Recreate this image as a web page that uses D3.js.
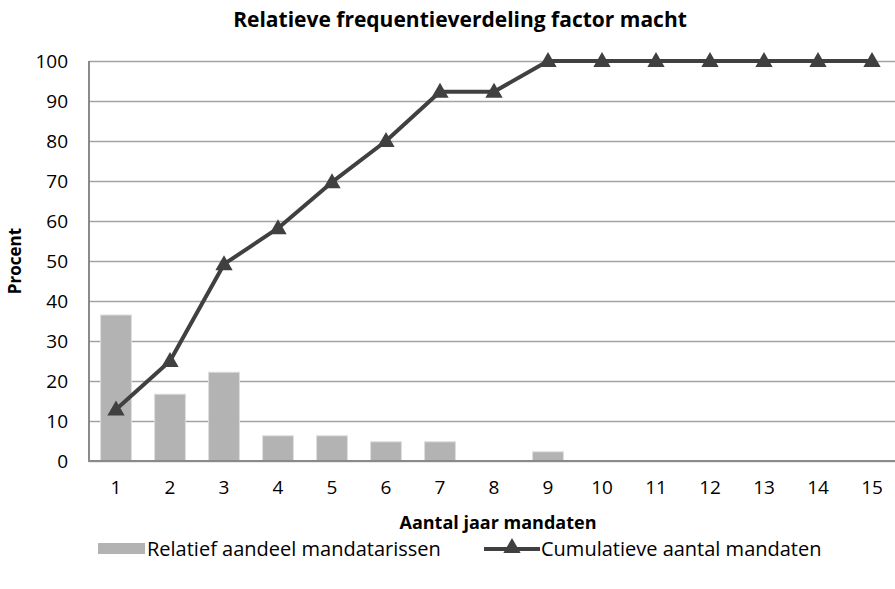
<!DOCTYPE html>
<html>
<head>
<meta charset="utf-8">
<script src="https://cdn.jsdelivr.net/npm/d3@7"></script>
<style>
  body { margin: 0; background: #fff; }
  svg text { font-family: "Open Sans", sans-serif; fill: #000; }
</style>
</head>
<body>
<div id="chart"></div>
<script>

// data
var years = ["1", "2", "3", "4", "5", "6", "7", "8", "9", "10", "11", "12", "13", "14", "15"]

var relatief = [36.5, 16.7, 22.2, 6.3, 6.3, 4.8, 4.8, 0, 2.3, 0, 0, 0, 0, 0, 0]

var cumulatief = [12.9, 25, 49.2, 58.2, 69.7, 80, 92.3, 92.3, 100, 100, 100, 100, 100, 100, 100]

var yTicks = [0, 10, 20, 30, 40, 50, 60, 70, 80, 90, 100]

var width = 895, height = 589

var margin = { top: 61, left: 89, bottom: 128 }

var plotHeight = height - margin.top - margin.bottom

// the plot runs a little past the right edge of the picture
var band = 54

var svg = d3.select("#chart").append("svg")
    .attr("width", width)
    .attr("height", height)

var x = d3.scaleBand()
    .domain(years)
    .range([margin.left, margin.left + band * years.length])
    .paddingInner(0.43)
    .paddingOuter(0.215)

var xc = (d) => x(d) + x.bandwidth() / 2

var y = d3.scaleLinear()
    .domain([0, 100])
    .range([margin.top + plotHeight, margin.top])

// gridlines + y labels
svg.append("g")
    .attr("class", "y axis")
    .attr("transform", "translate(" + margin.left + ",0)")
    .call(d3.axisLeft(y).tickValues(yTicks).tickSize(-(width - margin.left)).tickPadding(21))
    .call(g => g.select(".domain").remove())
    .call(g => g.selectAll(".tick line").attr("stroke", "#a3a3a3").attr("stroke-width", 1.6))
    .call(g => g.selectAll(".tick text").attr("font-size", 19).attr("font-family", "Open Sans").attr("fill", "#000"))

// bars
svg.append("g")
    .selectAll("rect")
    .data(relatief)
    .join("rect")
    .attr("x", (d, i) => x(years[i]))
    .attr("y", d => y(d))
    .attr("width", x.bandwidth())
    .attr("height", d => y(0) - y(d))
    .attr("fill", "#b3b3b3")
    .attr("stroke", "#dcdcdc")
    .attr("stroke-width", d => d > 0 ? 1 : 0)

// axes lines
svg.append("line")
    .attr("x1", margin.left).attr("x2", width)
    .attr("y1", y(0)).attr("y2", y(0))
    .attr("stroke", "#8a8a8a").attr("stroke-width", 2.2)

svg.append("line")
    .attr("x1", margin.left).attr("x2", margin.left)
    .attr("y1", y(100)).attr("y2", y(0) + 1)
    .attr("stroke", "#8a8a8a").attr("stroke-width", 2)

// x labels
svg.append("g")
    .attr("class", "x axis")
    .attr("transform", "translate(0," + y(0) + ")")
    .call(d3.axisBottom(x).tickSize(0).tickPadding(20))
    .call(g => g.select(".domain").remove())
    .call(g => g.selectAll(".tick text").attr("font-size", 19).attr("font-family", "Open Sans").attr("fill", "#000"))

// cumulative line
var line = d3.line()
    .x((d, i) => xc(years[i]))
    .y(d => y(d))

svg.append("path")
    .datum(cumulatief)
    .attr("d", line)
    .attr("fill", "none")
    .attr("stroke", "#404040")
    .attr("stroke-width", 4)
    .attr("stroke-linejoin", "round")

var tri = d3.symbol().type(d3.symbolTriangle).size(130)

svg.append("g")
    .selectAll("path")
    .data(cumulatief)
    .join("path")
    .attr("d", tri)
    .attr("transform", (d, i) => "translate(" + xc(years[i]) + "," + (y(d) + 1) + ")")
    .attr("fill", "#404040")

// titles
svg.append("text")
    .attr("x", 460).attr("y", 27)
    .attr("text-anchor", "middle")
    .attr("font-size", 21).attr("font-weight", "bold")
    .text("Relatieve frequentieverdeling factor macht")

svg.append("text")
    .attr("x", 498).attr("y", 529)
    .attr("text-anchor", "middle")
    .attr("font-size", 18).attr("font-weight", "bold")
    .text("Aantal jaar mandaten")

svg.append("text")
    .attr("transform", "translate(21," + y(50) + ") rotate(-90)")
    .attr("text-anchor", "middle")
    .attr("font-size", 17).attr("font-weight", "bold")
    .text("Procent")

// legend
var legend = svg.append("g").attr("transform", "translate(0,549)")

legend.append("rect")
    .attr("x", 98).attr("y", -6)
    .attr("width", 47).attr("height", 11)
    .attr("fill", "#b3b3b3")

legend.append("text")
    .attr("x", 147).attr("y", 7)
    .attr("font-size", 20)
    .text("Relatief aandeel mandatarissen")

legend.append("line")
    .attr("x1", 484).attr("x2", 540)
    .attr("y1", 0).attr("y2", 0)
    .attr("stroke", "#404040").attr("stroke-width", 4)

legend.append("path")
    .attr("d", tri)
    .attr("transform", "translate(512,-1)")
    .attr("fill", "#404040")

legend.append("text")
    .attr("x", 541).attr("y", 7)
    .attr("font-size", 20)
    .text("Cumulatieve aantal mandaten")

</script>
</body>
</html>
